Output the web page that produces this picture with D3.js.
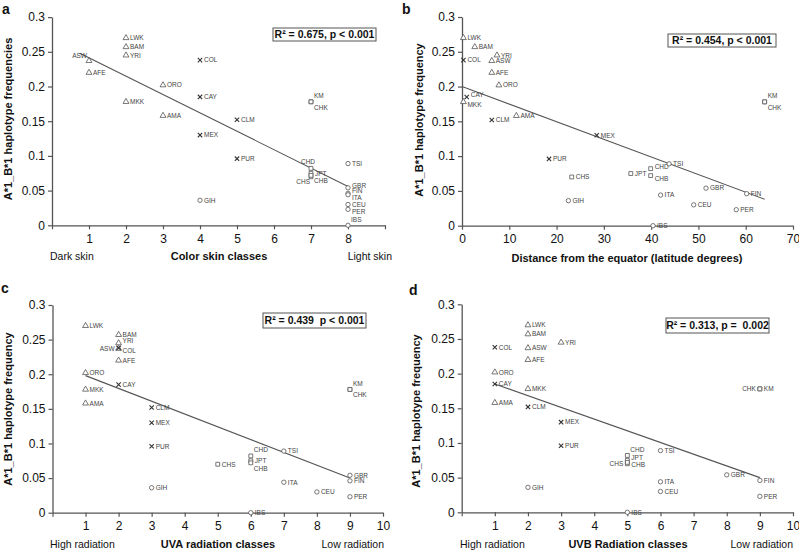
<!DOCTYPE html>
<html><head><meta charset="utf-8">
<script src="https://cdn.jsdelivr.net/npm/d3@7"></script>
<style>body{margin:0;background:#fff}svg{display:block;font-family:Arial,"Liberation Sans",sans-serif}</style>
</head><body><svg id="c" width="799" height="551"></svg>
<script>
// ---------- data ----------
const pops   = ["LWK","BAM","YRI","ASW","AFE","ORO","MKK","AMA","COL","CAY","CLM","MEX","PUR","KM","CHK","CHD","JPT","CHS","CHB","GIH","TSI","GBR","FIN","ITA","CEU","PER","IBS"];
const groups = ["afr","afr","afr","afr","afr","afr","afr","afr","adm","adm","adm","adm","adm","eas","eas","eas","eas","eas","eas","eur","eur","eur","eur","eur","eur","eur","eur"];
const freq   = [0.270,0.257,0.245,0.237,0.220,0.202,0.178,0.158,0.238,0.185,0.152,0.130,0.096,0.178,0.178,0.082,0.075,0.070,0.072,0.036,0.089,0.054,0.046,0.044,0.030,0.023,0.000];
const skinClass = [2,2,2,1,1,3,2,3,4,4,5,4,5,7,7,7,7,7,7,4,8,8,8,8,8,8,8];
const latitude  = [0.3,2.7,7.4,6.3,6.3,7.8,0.3,11.5,0.3,1.0,6.3,28.5,18.4,64,64,39.9,35.7,23.2,39.9,22.5,43.8,51.6,60.2,42.0,49.0,58.0,40.4];
const uvaClass  = [1,2,2,2,2,1,1,1,2,2,3,3,3,9,9,6,6,5,6,3,7,9,9,7,8,9,6];
const uvbClass  = [2,2,3,2,2,1,2,1,1,1,2,3,3,9,9,5,5,5,5,2,6,8,9,6,6,9,5];
// regression line end points
const fitA_x = [0.75, 8], fitA_y = [0.248, 0.056];
const fitB_x = [0, 64],   fitB_y = [0.200, 0.038];
const fitC_x = [1, 9],    fitC_y = [0.198, 0.050];
const fitD_x = [1, 9],    fitD_y = [0.185, 0.050];
// tick labels
const yTicks = [0,0.05,0.1,0.15,0.2,0.25,0.3];
const xTicksA = [1,2,3,4,5,6,7,8];
const xTicksB = [0,10,20,30,40,50,60,70];
const xTicksCD = [1,2,3,4,5,6,7,8,9,10];
// texts
const statA = "R² = 0.675, p < 0.001", statB = "R² = 0.454, p < 0.001", statC = "R² = 0.439  p < 0.001", statD = "R² = 0.313, p =  0.002";

// ---------- drawing ----------
const svg = d3.select("#c");
svg.append("rect").attr("width",799).attr("height",551).attr("fill","#fff");
const ink = "#444";
const symMap = {afr:d3.symbolTriangle, adm:d3.symbolX, eas:d3.symbolSquare, eur:d3.symbolCircle};
const symSize = {afr:15, adm:14, eas:15, eur:15};
const fmtY = v => v===0 ? "0" : String(+v.toFixed(2));

function panel(o){
  const g = svg.append("g");
  const x = d3.scaleLinear().domain(o.xDom).range(o.xRange);
  const y = d3.scaleLinear().domain([0,0.3]).range(o.yRange);
  // axes
  const xa = d3.axisBottom(x).tickValues(o.xTickMarks).tickSize(4).tickSizeOuter(0).tickPadding(5)
      .tickFormat(d => o.xLabels.includes(d) ? String(d) : "");
  const gx = g.append("g").attr("transform",`translate(0,${o.yRange[0]})`).call(xa);
  const ya = d3.axisLeft(y).tickValues(yTicks).tickSize(4).tickSizeOuter(0).tickPadding(3).tickFormat(fmtY);
  const gy = g.append("g").attr("transform",`translate(${o.xRange[0]},0)`).call(ya);
  [gx,gy].forEach(a=>{
    a.select(".domain").attr("stroke","#555").attr("stroke-width",1.3);
    a.selectAll(".tick line").attr("stroke","#555").attr("stroke-width",1.2);
    a.selectAll("text").attr("fill","#111").attr("font-size",12).attr("font-family","Arial, 'Liberation Sans', sans-serif");
  });
  // regression
  g.append("line")
    .attr("x1",x(o.fitX[0])).attr("y1",y(o.fitY[0]))
    .attr("x2",x(o.fitX[1])).attr("y2",y(o.fitY[1]))
    .attr("stroke","#555").attr("stroke-width",1.1);
  // points
  pops.forEach((p,i)=>{
    const px = x(o.xs[i]), py = y(freq[i]), grp = groups[i];
    g.append("path").attr("d", d3.symbol(symMap[grp], symSize[grp])())
      .attr("transform",`translate(${px},${py})`)
      .attr("fill", grp==="adm"?"none":"#fff").attr("stroke", grp==="adm"?"#333":"#555")
      .attr("stroke-width", grp==="adm"?1.1:0.8);
    const pos = o.place[p] || "r";
    let dx=4, dy=2.3, anc="start";
    if(pos==="l"){dx=-4;anc="end";}
    else if(pos==="ur"){dx=3;dy=-3.5;}
    else if(pos==="lr"){dx=3;dy=8;}
    else if(pos==="rd"){dx=4;dy=5;}
    else if(pos==="ru"){dx=4;dy=0;}
    else if(pos==="ul"){dx=-2;dy=-2.5;anc="end";}
    else if(pos==="ll"){dx=-1;dy=7;anc="end";}
    else if(pos==="u"){dx=-3;dy=-4;anc="middle";}
    g.append("text").attr("x",px+dx).attr("y",py+dy).attr("text-anchor",anc)
      .attr("font-size",6.5).attr("fill",ink).text(p);
  });
  // stat box
  g.append("rect").attr("x",o.box[0]).attr("y",o.box[1]).attr("width",o.box[2]-o.box[0]).attr("height",o.box[3]-o.box[1])
    .attr("fill","#fff").attr("stroke","#555").attr("stroke-width",1);
  g.append("text").attr("x",(o.box[0]+o.box[2])/2).attr("y",o.box[1]+ (o.box[3]-o.box[1])/2 + 3.8)
    .attr("text-anchor","middle").attr("font-weight","bold").attr("font-size",10.5).attr("fill","#111")
    .style("white-space","pre").attr("xml:space","preserve").text(o.stat);
  // titles
  g.append("text").attr("x",o.panelXY[0]).attr("y",o.panelXY[1]).attr("font-weight","bold").attr("font-size",14).attr("fill","#111").text(o.letter);
  g.append("text").attr("transform",`translate(${o.yTitleXY[0]},${o.yTitleXY[1]}) rotate(-90)`)
    .attr("text-anchor","middle").attr("font-weight","bold").attr("font-size",11).attr("fill","#111").text(o.yTitle);
  g.append("text").attr("x",o.xTitleXY[0]).attr("y",o.xTitleXY[1]).attr("text-anchor","middle")
    .attr("font-weight","bold").attr("font-size",11).attr("fill","#111").text(o.xTitle);
  if(o.leftNote){
    g.append("text").attr("x",o.leftNote[1]).attr("y",o.xTitleXY[1]).attr("font-size",10.5).attr("fill","#111").text(o.leftNote[0]);
    g.append("text").attr("x",o.rightNote[1]).attr("y",o.xTitleXY[1]).attr("text-anchor","end").attr("font-size",10.5).attr("fill","#111").text(o.rightNote[0]);
  }
}

panel({letter:"a", panelXY:[2,14], xs:skinClass, xDom:[0,9], xRange:[52,385], yRange:[225.3,17.1],
  xTickMarks:[0,1,2,3,4,5,6,7,8,9], xLabels:xTicksA, fitX:fitA_x, fitY:fitA_y,
  box:[273,28,376,41], stat:statA,
  yTitle:"A*1_B*1 haplotype frequencies", yTitleXY:[12,119],
  xTitle:"Color skin classes", xTitleXY:[219,260], leftNote:["Dark skin",50], rightNote:["Light skin",392],
  place:{ASW:"ul",KM:"ur",CHK:"lr",CHD:"u",CHS:"ll",CHB:"lr",IBS:"ur",GBR:"ru",FIN:"ru",ITA:"rd",CEU:"r",PER:"rd"}});

panel({letter:"b", panelXY:[402,14], xs:latitude, xDom:[0,70], xRange:[462,793], yRange:[225.7,17],
  xTickMarks:xTicksB, xLabels:xTicksB, fitX:fitB_x, fitY:fitB_y,
  box:[668,34,776,47], stat:statB,
  yTitle:"A*1_B*1 haplotype frequency", yTitleXY:[423,120],
  xTitle:"Distance from the equator (latitude degrees)", xTitleXY:[627,262],
  place:{KM:"ur",CHK:"lr",CHD:"ru",CHB:"rd",CAY:"ru",MKK:"rd"}});

panel({letter:"c", panelXY:[1,293], xs:uvaClass, xDom:[0,10], xRange:[52.5,383], yRange:[512.7,305],
  xTickMarks:[0,1,2,3,4,5,6,7,8,9,10], xLabels:xTicksCD, fitX:fitC_x, fitY:fitC_y,
  box:[263,313,366,328], stat:statC,
  yTitle:"A*1_B*1 haplotype frequency", yTitleXY:[12,409],
  xTitle:"UVA radiation classes", xTitleXY:[218,548], leftNote:["High radiation",50], rightNote:["Low radiation",384],
  place:{ASW:"l",KM:"ur",CHK:"lr",CHB:"lr",CHD:"ur",YRI:"ru",COL:"rd"}});

panel({letter:"d", panelXY:[409,295], xs:uvbClass, xDom:[0,10], xRange:[461.7,793], yRange:[512.3,304.3],
  xTickMarks:[0,1,2,3,4,5,6,7,8,9,10], xLabels:xTicksCD, fitX:fitD_x, fitY:fitD_y,
  box:[666,318,769,333], stat:statD,
  yTitle:"A*1_B*1 haplotype frequency", yTitleXY:[420,411],
  xTitle:"UVB Radiation classes", xTitleXY:[628,548], leftNote:["High radiation",460], rightNote:["Low radiation",793],
  place:{CHK:"l",CHD:"ur",CHS:"l",JPT:"ru",CHB:"rd"}});
</script></body></html>
